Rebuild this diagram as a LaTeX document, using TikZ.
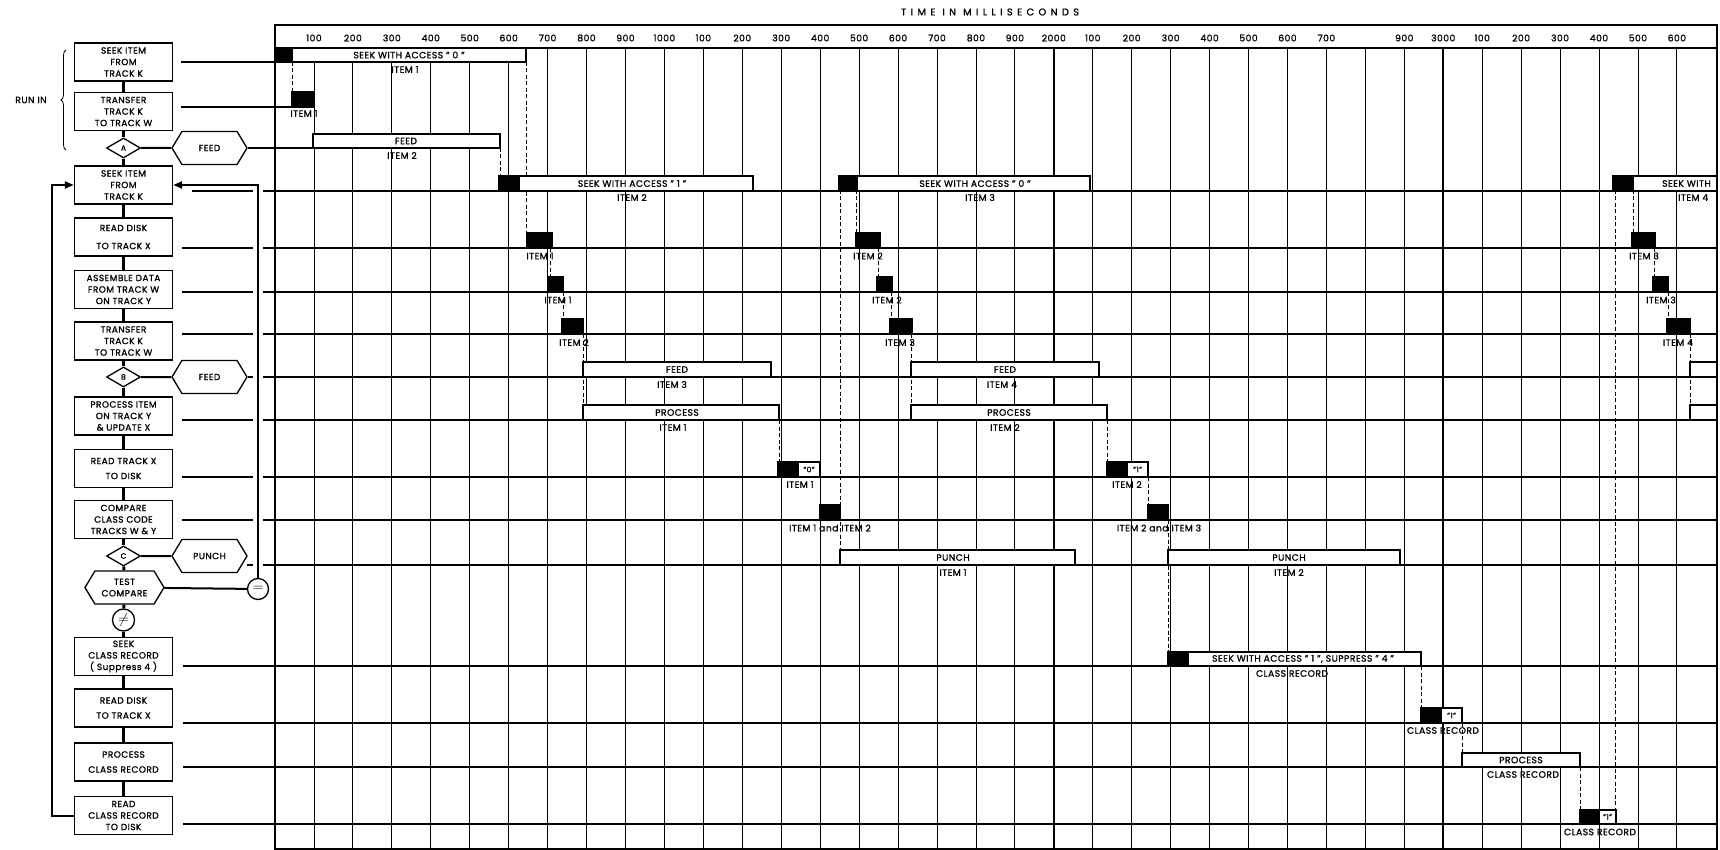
\documentclass[tikz,border=0pt]{standalone}
\usepackage{fontspec}
\setmainfont{Poppins}[LetterSpace=5,FakeBold=1.2]
\newfontfamily\hdrfont{Poppins}[LetterSpace=45,FakeBold=1.2]
\usetikzlibrary{shapes.geometric,shapes.symbols,decorations.pathreplacing,arrows.meta}
\newcommand\gK[4]{\fill (#1,#3) rectangle (#2,#4); \draw[line width=1.4pt] (#1,#3) rectangle (#2,#4);}
\newcommand\gW[4]{\draw[wbar] (#1,#3) rectangle (#2,#4);}
\begin{document}
\begin{tikzpicture}[x=1pt,y=-1pt,
  fbox/.style={draw,line width=1.3pt,minimum width=98pt,minimum height=38pt,inner sep=0pt,align=center,font=\fontsize{9}{11.5}\selectfont},
  fbox2/.style={fbox,font=\fontsize{9}{15}\selectfont},
  fdia/.style={draw,diamond,line width=1.3pt,minimum width=34pt,minimum height=20pt,inner sep=0pt,font=\fontsize{7.5}{8}\selectfont},
  fhex/.style={draw,signal,signal to=west and east,signal pointer angle=118,line width=1.3pt,minimum width=75pt,minimum height=33pt,inner sep=0pt,font=\fontsize{9}{11.5}\selectfont,align=center},
  fcirc/.style={draw,circle,line width=1.3pt,minimum size=21pt,inner sep=0pt},
  spine/.style={line width=3pt},
  loopl/.style={line width=2pt},
  rowl/.style={line width=1.5pt},
  gridl/.style={line width=0.8pt},
  gridk/.style={line width=1.5pt},
  wbar/.style={draw,line width=1.4pt,fill=white},
  dsh/.style={line width=0.9pt,dash pattern=on 4pt off 2.5pt},
  lbl/.style={font=\fontsize{9.2}{9.5}\selectfont,inner sep=0pt},
  sml/.style={font=\fontsize{7.5}{8}\selectfont,inner sep=0pt},
  hlbl/.style={font=\fontsize{9.2}{10}\selectfont,inner sep=0pt},
  tip/.style={-{Triangle[length=9pt,width=7pt]}},
]
\useasboundingbox (0,0) rectangle (1720,850);

% ---------------- flowchart ----------------
\node[fbox] (b1) at (123.5,62) {SEEK ITEM\\FROM\\TRACK K};
\node[fbox] (b2) at (123.5,111.5) {TRANSFER\\TRACK K\\TO TRACK W};
\node[fdia] (dA) at (123.5,148) {A};
\node[fhex] (hA) at (209.5,148) {FEED};
\node[fbox] (b4) at (123.5,185) {SEEK ITEM\\FROM\\TRACK K};
\node[fbox,font=\fontsize{9}{18}\selectfont] (b5) at (123.5,237) {READ DISK\\TO TRACK X};
\node[fbox] (b6) at (123.5,289.5) {ASSEMBLE DATA\\FROM TRACK W\\ON TRACK Y};
\node[fbox] (b7) at (123.5,341) {TRANSFER\\TRACK K\\TO TRACK W};
\node[fdia] (dB) at (123.5,377) {B};
\node[fhex] (hB) at (209.5,377) {FEED};
\node[fbox] (b9) at (123.5,416) {PROCESS ITEM\\ON TRACK Y\\\& UPDATE X};
\node[fbox2] (b10) at (123.5,468.5) {READ TRACK X\\TO DISK};
\node[fbox] (b11) at (123.5,519.5) {COMPARE\\CLASS CODE\\TRACKS W \& Y};
\node[fdia] (dC) at (123.5,556) {C};
\node[fhex] (hC) at (209.5,556) {PUNCH};
\node[fhex,minimum width=79pt] (hT) at (124.5,587.5) {TEST\\COMPARE};
\node[fcirc,minimum size=22pt] (cNE) at (123.5,620) {\Large$\neq$};
\node[fcirc] (cEQ) at (258,589) {\Large$=$};
\node[fbox] (b13) at (123.5,656.5) {SEEK\\CLASS RECORD\\( Suppress 4 )};
\node[fbox2] (b14) at (123.5,708) {READ DISK\\TO TRACK X};
\node[fbox2] (b15) at (123.5,762) {PROCESS\\CLASS RECORD};
\node[fbox] (b16) at (123.5,815.5) {READ\\CLASS RECORD\\TO DISK};

\foreach \a/\b in {b1/b2,b2/dA,dA/b4,b4/b5,b5/b6,b6/b7,b7/dB,dB/b9,b9/b10,b10/b11,b11/dC,dC/hT,hT/cNE,cNE/b13,b13/b14,b14/b15,b15/b16}
  \draw[spine] (\a) -- (\b);
\draw[loopl] (dA) -- (hA);
\draw[loopl] (dB) -- (hB);
\draw[loopl] (dC) -- (hC);

\draw[decorate,decoration={brace,amplitude=5pt},line width=0.8pt] (66,150) -- (66,50);
\node[lbl] (runin) at (31,100) {RUN IN};

% row lines left of the chart
\coordinate (r12s) at (247,565);
\draw[rowl] (181,62) -- (275,62);
\draw[rowl] (181,107) -- (292,107);
\draw[rowl] (hA.east) -- (313,148);
\foreach \x/\y in {192/191,182/248,182/292,182/334,182/420,182/477,182/520,183/666,183/723,183/767,183/824}
  \draw[rowl] (\x,\y) -- (1716,\y);
\draw[rowl] (hB.east) -- (1716,377);
\draw[rowl] (r12s) -- (1716,565);

% gaps where the loop crosses
\fill[white] (253,189) rectangle (263,576);

% loops
\draw[loopl] (hT) -- (cEQ);
\draw[loopl,tip] (cEQ) -- (258,185) -- (b4.east);
\draw[loopl,tip] (b16.west) -- (52,815.5) -- (52,185) -- (b4.west);

% ---------------- chart ----------------
\begin{scope}
\clip (275,25) rectangle (1716,850);
\foreach \t in {100,200,...,3600}
  \draw[gridl] ({275+0.3894*\t},48) -- ({275+0.3894*\t},850);
\foreach \t in {1000,2000,3000}
  \draw[gridk] ({275+0.3894*\t},48) -- ({275+0.3894*\t},850);

\foreach \x/\a/\b in {292/62/92, 526/62/233, 500/148/176, 550/248/277, 563/292/319, 583/334/405, 779/420/462, 820/477/505, 840/190/550, 856/190/233, 878/248/277, 891/292/319, 911/334/405, 1107/420/462, 1148/477/505, 1168/520/652, 1421/666/708, 1462/723/753, 1580/767/810, 1615/190/810, 1633/190/233, 1654/248/277, 1668/292/319, 1690/334/405}
  \draw[dsh] (\x,\a) -- (\x,\b);

\gK{275}{292}{48}{62}\gW{292}{526}{48}{62}
\gK{292}{314}{92}{107}
\gW{313}{500}{134}{148}
\gK{499}{519}{176}{191}\gW{519}{753}{176}{191}
\gK{839}{857}{176}{191}\gW{857}{1090}{176}{191}
\gK{1613}{1633}{176}{191}\gW{1633}{1730}{176}{191}
\gK{527}{552}{233}{248}\gK{856}{880}{233}{248}\gK{1632}{1655}{233}{248}
\gK{548}{563}{277}{292}\gK{877}{892}{277}{292}\gK{1653}{1668}{277}{292}
\gK{562}{583}{319}{334}\gK{890}{912}{319}{334}\gK{1667}{1690}{319}{334}
\gW{583}{771}{362}{377}\gW{911}{1099}{362}{377}\gW{1690}{1730}{362}{377}
\gW{583}{779}{405}{420}\gW{911}{1107}{405}{420}\gW{1690}{1730}{405}{420}
\gK{778}{798}{462}{477}\gW{798}{820}{462}{477}
\gK{1107}{1127}{462}{477}\gW{1127}{1148}{462}{477}
\gK{820}{840}{505}{520}\gK{1148}{1168}{505}{520}
\gW{840}{1075}{550}{565}\gW{1168}{1400}{550}{565}
\gK{1168}{1188}{652}{666}\gW{1188}{1421}{652}{666}
\gK{1421}{1441}{708}{723}\gW{1441}{1462}{708}{723}
\gW{1462}{1580}{753}{767}
\gK{1580}{1599}{810}{824}\gW{1599}{1616}{810}{824}

\node[lbl] (s1) at (409,55) {SEEK WITH ACCESS " 0 "};
\node[lbl] (s1i) at (405,69.5) {ITEM 1};
\node[lbl] (t2i) at (304,113.5) {ITEM 1};
\node[lbl] (f1) at (406,141) {FEED};
\node[lbl] (f1i) at (402,155.5) {ITEM 2};
\node[lbl] (s2) at (632,183.5) {SEEK WITH ACCESS " 1 "};
\node[lbl] (s2i) at (632,197.5) {ITEM 2};
\node[lbl] (s3) at (975,183.5) {SEEK WITH ACCESS " 0 "};
\node[lbl] (s3i) at (980,197.5) {ITEM 3};
\node[lbl,anchor=west] (s4) at (1662,183.5) {SEEK WITH};
\node[lbl,anchor=west] (s4i) at (1678,197.5) {ITEM 4};
\node[lbl] (r5a) at (540,256) {ITEM 1};
\node[lbl] (r5b) at (868,256) {ITEM 2};
\node[lbl] (r5c) at (1644,256) {ITEM 3};
\node[lbl] (r6a) at (558,300) {ITEM 1};
\node[lbl] (r6b) at (887,300) {ITEM 2};
\node[lbl] (r6c) at (1661,300) {ITEM 3};
\node[lbl] (r7a) at (574,342.5) {ITEM 2};
\node[lbl] (r7b) at (900,342.5) {ITEM 3};
\node[lbl] (r7c) at (1678,342.5) {ITEM 4};
\node[lbl] (r8a) at (677,369.5) {FEED};
\node[lbl] (r8ai) at (672,384.5) {ITEM 3};
\node[lbl] (r8b) at (1005,369.5) {FEED};
\node[lbl] (r8bi) at (1002,384.5) {ITEM 4};
\node[lbl] (r9a) at (677,412.5) {PROCESS};
\node[lbl] (r9ai) at (673,427.5) {ITEM 1};
\node[lbl] (r9b) at (1009,412.5) {PROCESS};
\node[lbl] (r9bi) at (1005,427.5) {ITEM 2};
\node[sml] (r10a) at (809,469.5) {"0"};
\node[lbl] (r10ai) at (800,484.5) {ITEM 1};
\node[sml] (r10b) at (1137.5,469.5) {"1"};
\node[lbl] (r10bi) at (1127,484.5) {ITEM 2};
\node[lbl] (r11a) at (830,528) {ITEM 1 and ITEM 2};
\node[lbl] (r11b) at (1159,528) {ITEM 2 and ITEM 3};
\node[lbl] (r12a) at (953,557.5) {PUNCH};
\node[lbl] (r12ai) at (953,572.5) {ITEM 1};
\node[lbl] (r12b) at (1289,557.5) {PUNCH};
\node[lbl] (r12bi) at (1289,572.5) {ITEM 2};
\node[lbl] (r13) at (1303,659) {SEEK WITH ACCESS " 1 ", SUPPRESS " 4 "};
\node[lbl] (r13i) at (1292,673.5) {CLASS RECORD};
\node[sml] (r14) at (1451.5,715.5) {"1"};
\node[lbl] (r14i) at (1443,730.5) {CLASS RECORD};
\node[lbl] (r15) at (1521,760) {PROCESS};
\node[lbl] (r15i) at (1523,774.5) {CLASS RECORD};
\node[sml] (r16) at (1607.5,817) {"1"};
\node[lbl] (r16i) at (1600,832) {CLASS RECORD};
\end{scope}

% header
\foreach \t/\l in {100/100,200/200,300/300,400/400,500/500,600/600,700/700,800/800,900/900,1000/1000,1100/100,1200/200,1300/300,1400/400,1500/500,1600/600,1700/700,1800/800,1900/900,2000/2000,2100/100,2200/200,2300/300,2400/400,2500/500,2600/600,2700/700,2900/900,3000/3000,3100/100,3200/200,3300/300,3400/400,3500/500,3600/600}
  \node[hlbl] (h\t) at ({275+0.3894*\t},38) {\l};
\node[inner sep=0pt] (title) at (990,12) {\hdrfont\fontsize{9.8}{10}\selectfont TIME IN MILLISECONDS};

% frame
\draw[line width=1.2pt] (275,48) -- (1717,48);
\draw[line width=2.6pt] (273.7,25) -- (1718.3,25);
\draw[line width=2.6pt] (275,25) -- (275,850);
\draw[line width=2.6pt] (1717,25) -- (1717,850);
\draw[line width=2pt] (275,849) -- (1717,849);
\end{tikzpicture}
\end{document}
